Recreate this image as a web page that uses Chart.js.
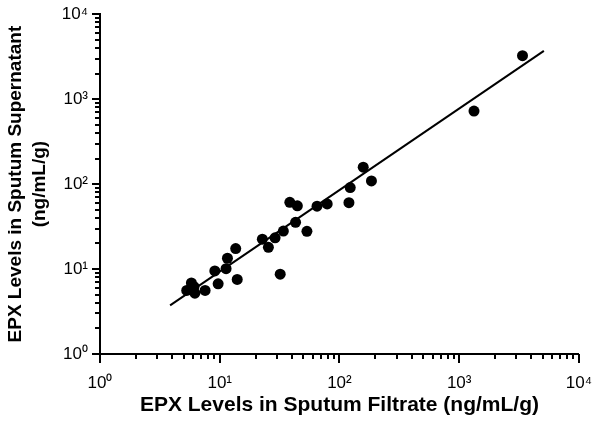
<!DOCTYPE html>
<html>
<head>
<meta charset="utf-8">
<script src="https://cdn.jsdelivr.net/npm/chart.js@4.4.1/dist/chart.umd.min.js"></script>
<style>
  html, body { margin: 0; padding: 0; background: #fff; }
</style>
</head>
<body>
<canvas id="epxChart" width="603" height="421"></canvas>
<script>
// EPX in sputum filtrate (x) vs sputum supernatant (y), ng/mL/g
const filtrate    = [3380, 1330, 158, 185, 123, 120, 79, 65, 38.5, 44.5, 43, 53.5, 34, 29, 22.7, 25.5, 32, 13.6, 11.6, 11.3, 14, 9.1, 9.7, 7.55, 5.8, 5.3, 6.2, 6.1];
const supernatant = [3250, 725, 158, 109, 91, 60.5, 58.5, 55, 61, 55.5, 35.5, 27.8, 28, 23.3, 22.5, 18, 8.7, 17.4, 13.4, 10.1, 7.55, 9.5, 6.7, 5.6, 6.85, 5.6, 5.2, 6.2];

// regression line ends
const fitX = [3.85, 5100];
const fitY = [3.74, 3700];

const decades = [1, 10, 100, 1000, 10000];
const decadeLabels = ['10⁰', '10¹', '10²', '10³', '10⁴'];

// 1..9 in each decade for tick marks
const tickValues = [];
decades.forEach((d, i) => {
    if (i === decades.length - 1) { tickValues.push(d); return; }
    for (let k = 1; k <= 9; k++) tickValues.push(d * k);
});

const FONT = "'Liberation Sans', Arial, Helvetica, sans-serif";

// draws the tick marks, long at the decades, short in between
const tickMarks = {
    id: 'tickMarks',
    afterDraw(chart) {
        const ctx = chart.ctx;
        const xs = chart.scales.x, ys = chart.scales.y;
        ctx.save();
        ctx.strokeStyle = '#000';
        ctx.lineWidth = 2;
        tickValues.forEach(v => {
            const major = decades.includes(v);
            const px = Math.round(xs.getPixelForValue(v));
            ctx.beginPath();
            ctx.moveTo(px, xs.top);
            ctx.lineTo(px, xs.top + (major ? 9 : 5));
            ctx.stroke();
            const py = Math.round(ys.getPixelForValue(v));
            ctx.beginPath();
            ctx.moveTo(ys.right, py);
            ctx.lineTo(ys.right - (major ? 8 : 5), py);
            ctx.stroke();
        });
        ctx.restore();
    }
};

function logAxis(labelPad, extra) {
    return Object.assign({
        type: 'logarithmic',
        min: 1,
        max: 10000,
        border: { display: true, color: '#000', width: 2 },
        grid: { display: true, drawOnChartArea: false, drawTicks: true, tickLength: 8, color: 'rgba(0,0,0,0)' },
        afterBuildTicks: (scale) => { scale.ticks = tickValues.map(v => ({ value: v })); },
        ticks: {
            autoSkip: false,
            maxRotation: 0,
            padding: labelPad,
            color: '#000',
            font: { family: FONT, size: 17 },
            callback: (value) => {
                const i = decades.indexOf(value);
                return i >= 0 ? decadeLabels[i] : '';
            }
        }
    }, extra);
}

const points = filtrate.map((x, i) => ({ x: x, y: supernatant[i] }));
const fitLine = fitX.map((x, i) => ({ x: x, y: fitY[i] }));

new Chart(document.getElementById('epxChart'), {
    type: 'scatter',
    data: {
        datasets: [
            {
                data: fitLine,
                showLine: true,
                borderColor: '#000',
                borderWidth: 2,
                pointRadius: 0
            },
            {
                data: points,
                pointRadius: 5.5,
                pointBackgroundColor: '#000',
                pointBorderColor: '#000',
                pointBorderWidth: 0
            }
        ]
    },
    options: {
        responsive: false,
        animation: false,
        layout: { padding: { top: 14, right: 20, left: 0, bottom: 0 } },
        plugins: { legend: { display: false }, tooltip: { enabled: false } },
        scales: {
            x: logAxis(11, {
                afterFit: (scale) => { scale.height = 67; },
                title: {
                    display: true,
                    text: 'EPX Levels in Sputum Filtrate (ng/mL/g)',
                    color: '#000',
                    font: { family: FONT, size: 21, weight: 'bold', lineHeight: 1.2 },
                    padding: { top: 0, bottom: 3 }
                }
            }),
            y: logAxis(4, {
                afterFit: (scale) => { scale.width = 100; },
                title: {
                    display: true,
                    text: ['EPX Levels in Sputum Supernatant', '(ng/mL/g)'],
                    color: '#000',
                    font: { family: FONT, size: 19, weight: 'bold', lineHeight: 1.3 },
                    padding: { top: 3, bottom: 0 }
                }
            })
        }
    },
    plugins: [tickMarks]
});
</script>
</body>
</html>
